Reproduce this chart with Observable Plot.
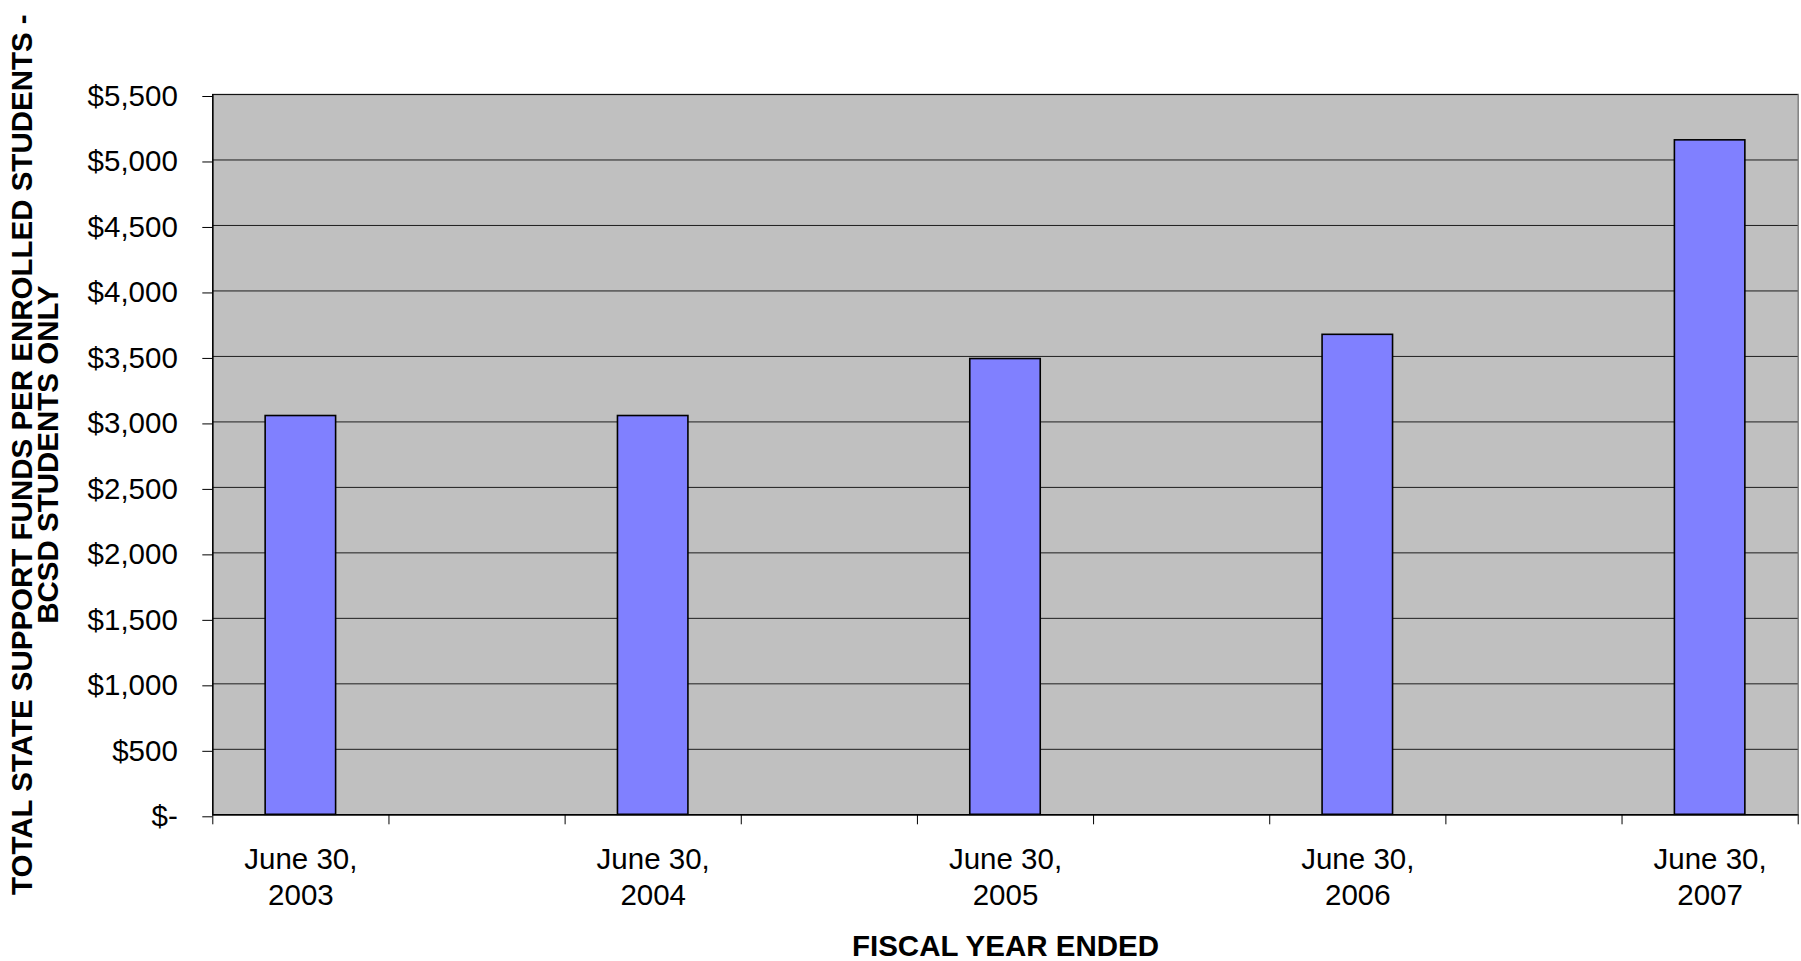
<!DOCTYPE html>
<html>
<head>
<meta charset="utf-8">
<script src="https://cdn.jsdelivr.net/npm/d3@7"></script>
<script src="https://cdn.jsdelivr.net/npm/@observablehq/plot@0.6"></script>
<style>
  html, body { margin: 0; padding: 0; background: #ffffff; }
  #chart svg { display: block; }
</style>
</head>
<body>
<div id="chart"></div>
<script>
// Fiscal years shown on the category axis
const years = ["2003", "2004", "2005", "2006", "2007"];
// Total state support funds per enrolled student (BCSD students only), dollars
const fundsPerStudent = [3045, 3045, 3480, 3665, 5150];
// Category labels under each bar
const yearLabels = ["June 30,\n2003", "June 30,\n2004", "June 30,\n2005", "June 30,\n2006", "June 30,\n2007"];
// Value axis ticks
const yTicks = [0, 500, 1000, 1500, 2000, 2500, 3000, 3500, 4000, 4500, 5000, 5500];
const yTitle = "TOTAL STATE SUPPORT FUNDS PER ENROLLED STUDENTS -\nBCSD STUDENTS ONLY";
const xTitle = "FISCAL YEAR ENDED";

// Each year occupies every other category slot; the slots in between are empty.
const slotCount = years.length * 2 - 1;
const rows = years.map((year, i) => ({
  year,
  value: fundsPerStudent[i],
  label: yearLabels[i],
  slot: i * 2
}));

const font = "Arial, 'Liberation Sans', sans-serif";
const fontSize = 29.5;
const money = d3.format(",");

const chart = Plot.plot({
  width: 1801,
  height: 961,
  marginLeft: 212.3,
  marginRight: 3.3,
  marginTop: 94,
  marginBottom: 146.7,
  style: { fontFamily: font, fontSize: `${fontSize}px`, background: "#ffffff", color: "#000000" },
  x: { domain: [0, slotCount] },
  y: { domain: [0, 5500] },
  marks: [
    Plot.frame({ fill: "#c0c0c0", stroke: "#808080", strokeWidth: 1.5 }),
    Plot.gridY(yTicks, { stroke: "#000000", strokeOpacity: 0.85, strokeWidth: 1 }),
    Plot.rectY(rows, {
      x1: d => d.slot + 0.3,
      x2: d => d.slot + 0.7,
      y: "value",
      fill: "#8080ff",
      stroke: "#000000",
      strokeWidth: 1.6
    }),
    Plot.ruleX([0], { stroke: "#000000", strokeWidth: 1.5 }),
    Plot.ruleY([0], { stroke: "#000000", strokeWidth: 1.5 }),
    Plot.axisY({
      ticks: yTicks,
      tickSize: 10,
      tickPadding: 25,
      tickFormat: v => v === 0 ? "$-" : "$" + money(v),
      fontSize,
      dy: 2,
      label: null
    }),
    Plot.axisX({
      ticks: d3.range(0, slotCount + 1),
      tickSize: 10,
      tickFormat: () => "",
      label: null
    }),
    Plot.text(rows, {
      x: d => d.slot + 0.5,
      text: "label",
      frameAnchor: "bottom",
      lineAnchor: "bottom",
      lineHeight: 1.22,
      dy: 89.7,
      fontSize
    }),
    Plot.text([xTitle], {
      text: d => d,
      frameAnchor: "bottom",
      lineAnchor: "bottom",
      dy: 140.7,
      fontSize,
      fontWeight: "bold"
    }),
    Plot.text([yTitle], {
      text: d => d,
      frameAnchor: "left",
      textAnchor: "middle",
      rotate: -90,
      lineAnchor: "middle",
      lineHeight: 0.87,
      dx: -176.3,
      fontSize,
      fontWeight: "bold"
    })
  ]
});

document.getElementById("chart").appendChild(chart);
</script>
</body>
</html>
